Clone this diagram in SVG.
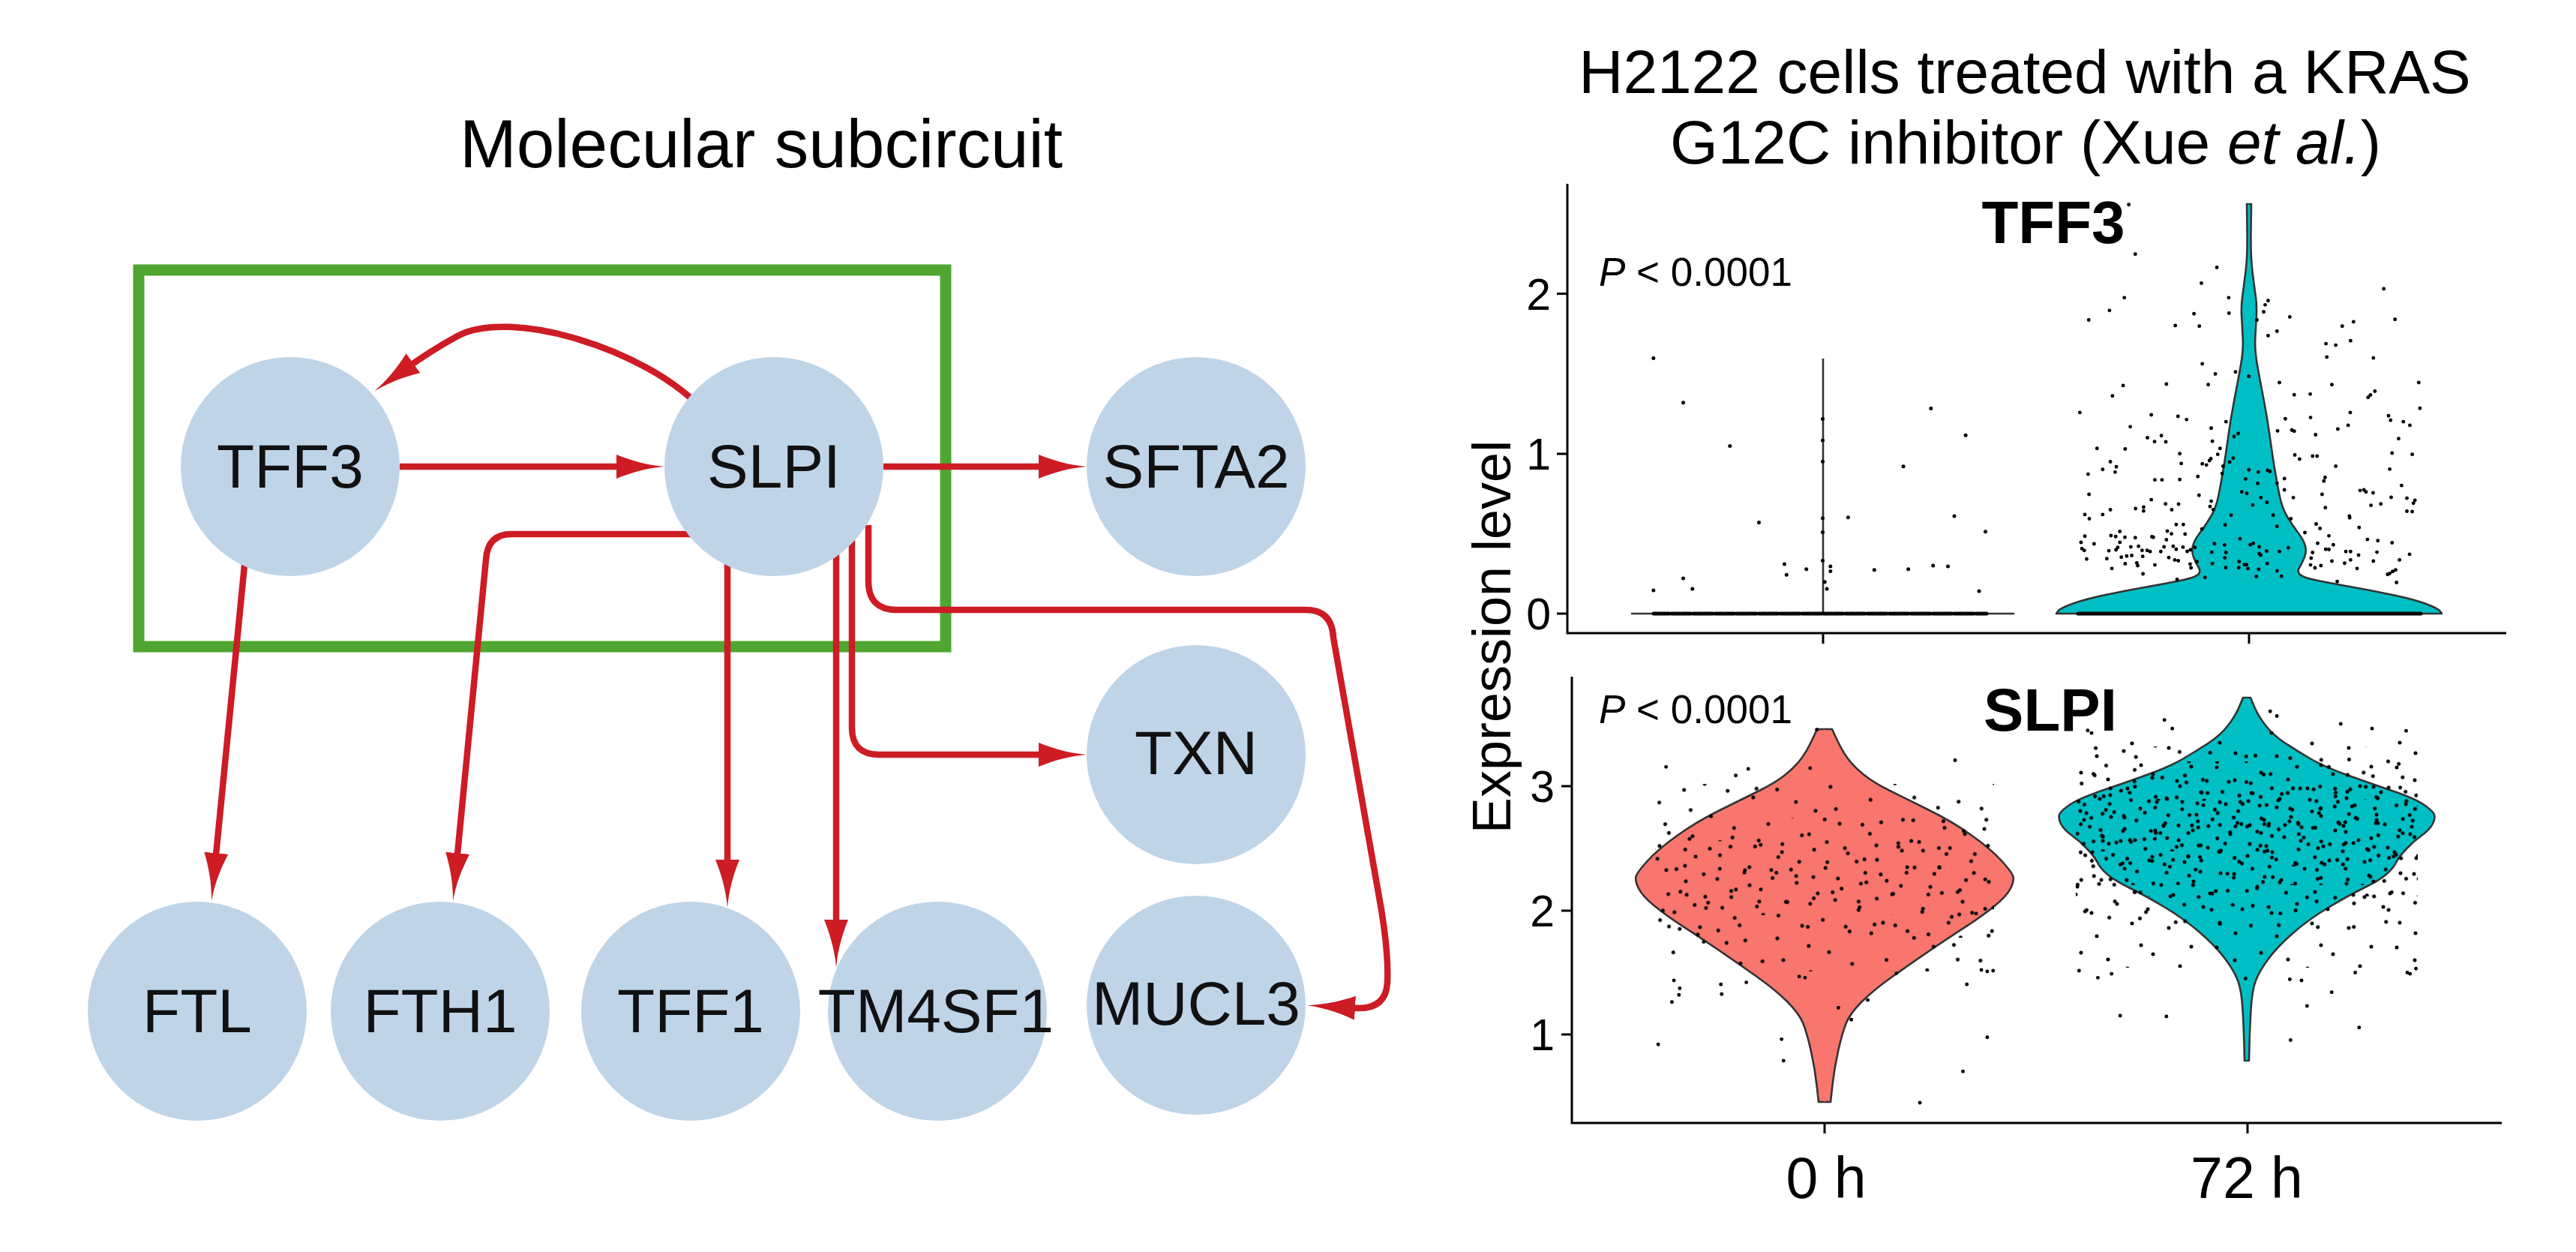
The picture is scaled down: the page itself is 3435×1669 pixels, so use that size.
<svg xmlns="http://www.w3.org/2000/svg" xmlns:xlink="http://www.w3.org/1999/xlink" width="3435" height="1669" viewBox="0 0 3435 1669">
<style>
text{font-family:"Liberation Sans",Arial,Helvetica,sans-serif;fill:#000}
.node circle{fill:#bfd4e7}
.node text{font-size:82px;text-anchor:middle;fill:#111}
.edge{fill:none;stroke:#cd1c24;stroke-width:8.5;marker-end:url(#arr)}
.vline{fill:none;stroke:#333;stroke-width:2.6;stroke-linejoin:round}
.ax{fill:none;stroke:#000;stroke-width:3}
.dots{fill:none;stroke:#000;stroke-linecap:round}
.tick{font-size:59px;text-anchor:end}
.ptxt{font-size:53px}
.ttl{font-size:82px;text-anchor:middle}
.gene{font-size:80px;font-weight:bold;text-anchor:middle}
.xl{font-size:77px;text-anchor:middle}
</style>
<defs>
<marker id="arr" markerUnits="userSpaceOnUse" viewBox="0 -16 64 32" markerWidth="64" markerHeight="32" refX="20" refY="0" orient="auto">
<path d="M0,-16 C20,-8 40,-2 64,0 C40,2 20,8 0,16 Z" fill="#cd1c24"/>
</marker>
<pattern id="pa" width="240" height="240" patternUnits="userSpaceOnUse">
<path class="dots" stroke-width="5" d="M12,37h0M58,9h0M101,44h0M149,17h0M203,31h0M231,72h0M27,88h0M76,63h0M122,97h0M171,79h0M214,118h0M5,141h0M49,126h0M94,152h0M139,133h0M188,161h0M226,187h0M33,189h0M81,204h0M117,181h0M162,213h0M207,229h0M18,233h0M64,170h0M130,222h0M183,5h0M234,147h0M42,62h0M88,112h0M156,48h0M197,91h0M110,12h0M67,231h0M150,176h0M9,104h0M224,12h0M175,129h0M99,205h0M55,96h0M135,70h0M193,198h0M25,160h0M120,140h0M80,30h0M160,105h0M215,60h0M45,215h0M100,80h0"/>
</pattern>
<pattern id="pb" xlink:href="#pa" patternTransform="rotate(23) translate(37,91)"/>
<pattern id="pc" xlink:href="#pa" patternTransform="rotate(-41) translate(113,29)"/>
<pattern id="pd" xlink:href="#pa" patternTransform="rotate(67) translate(71,157)"/>
<pattern id="pe" xlink:href="#pa" patternTransform="rotate(-13) translate(190,61)"/>
<pattern id="pf" xlink:href="#pa" patternTransform="rotate(131) translate(53,17)"/>
<pattern id="pg" xlink:href="#pa" patternTransform="rotate(-97) translate(141,203)"/>
<pattern id="ph" xlink:href="#pa" patternTransform="rotate(157) translate(17,119)"/>
<g id="vS72">
<path fill="#00bfc4" d="M1,930 L-5,930 L-10,942 Q-15,954 -25,967 Q-35,980 -51,990.5 Q-67,1001 -85,1011.5 Q-103,1022 -132,1032.5 Q-161,1043 -192,1053.5 Q-223,1064 -235,1072 Q-247,1080 -249.5,1085 Q-252,1090 -248,1098 Q-244,1106 -233.5,1113.5 Q-223,1121 -213,1131.5 Q-203,1142 -199,1150 Q-195,1158 -185.5,1166 Q-176,1174 -155.5,1184 Q-135,1194 -108.5,1210 Q-82,1226 -61.5,1244 Q-41,1262 -29,1278 Q-17,1294 -12,1307 Q-7,1320 -5.5,1346 Q-4,1372 -3.5,1393 L-3,1414 L1,1414 Z"/>
<path class="vline" d="M0,930 L-5,930 L-10,942 Q-15,954 -25,967 Q-35,980 -51,990.5 Q-67,1001 -85,1011.5 Q-103,1022 -132,1032.5 Q-161,1043 -192,1053.5 Q-223,1064 -235,1072 Q-247,1080 -249.5,1085 Q-252,1090 -248,1098 Q-244,1106 -233.5,1113.5 Q-223,1121 -213,1131.5 Q-203,1142 -199,1150 Q-195,1158 -185.5,1166 Q-176,1174 -155.5,1184 Q-135,1194 -108.5,1210 Q-82,1226 -61.5,1244 Q-41,1262 -29,1278 Q-17,1294 -12,1307 Q-7,1320 -5.5,1346 Q-4,1372 -3.5,1393 L-3,1414 L0,1414"/>
</g>
<g id="vS0">
<path fill="#f8766d" d="M1,972 L-10,972 L-16.75,986.5 Q-23.5,1001 -31.25,1011.5 Q-39,1022 -52,1032.5 Q-65,1043 -86,1053.5 Q-107,1064 -138.5,1079.5 Q-170,1095 -196,1113.5 Q-222,1132 -236,1147.5 Q-250,1163 -251.5,1168.5 Q-253,1174 -248,1184.25 Q-243,1194.5 -227,1207.5 Q-211,1220.6 -190.5,1233.8 Q-170,1247 -143.5,1265 Q-117,1283 -91,1301.5 Q-65,1320 -49.5,1335.5 Q-34,1351 -28.75,1364 Q-23.5,1377 -18.25,1400.5 Q-13,1424 -10.5,1446.5 L-8,1469 L1,1469 Z"/>
<path class="vline" d="M0,972 L-10,972 L-16.75,986.5 Q-23.5,1001 -31.25,1011.5 Q-39,1022 -52,1032.5 Q-65,1043 -86,1053.5 Q-107,1064 -138.5,1079.5 Q-170,1095 -196,1113.5 Q-222,1132 -236,1147.5 Q-250,1163 -251.5,1168.5 Q-253,1174 -248,1184.25 Q-243,1194.5 -227,1207.5 Q-211,1220.6 -190.5,1233.8 Q-170,1247 -143.5,1265 Q-117,1283 -91,1301.5 Q-65,1320 -49.5,1335.5 Q-34,1351 -28.75,1364 Q-23.5,1377 -18.25,1400.5 Q-13,1424 -10.5,1446.5 L-8,1469 L0,1469"/>
</g>
<g id="vT72">
<path fill="#00bfc4" d="M1,272 L-3,272 L-2.5,306.5 Q-2,341 -4.35,360.5 Q-6.7,380 -8.7,394 Q-10.7,408 -9.85,422 Q-9,436 -8.25,451.5 Q-7.5,467 -11.05,487 Q-14.6,507 -19.55,532.5 Q-24.5,558 -27.75,582 Q-31,606 -34.25,625.5 Q-37.5,645 -40.75,661 Q-44,677 -51,688.75 Q-58,700.5 -65.5,710.25 Q-73,720 -75,728 Q-77,736 -73.5,744 Q-70,752 -67,757 Q-64,762 -68,766 Q-72,770 -90.75,773.8 Q-109.5,777.6 -137.25,782.55 Q-165,787.5 -192.5,793.25 Q-220,799 -236,805 Q-252,811 -254.5,814.5 L-257,818 L1,818 Z"/>
<path class="vline" d="M0,272 L-3,272 L-2.5,306.5 Q-2,341 -4.35,360.5 Q-6.7,380 -8.7,394 Q-10.7,408 -9.85,422 Q-9,436 -8.25,451.5 Q-7.5,467 -11.05,487 Q-14.6,507 -19.55,532.5 Q-24.5,558 -27.75,582 Q-31,606 -34.25,625.5 Q-37.5,645 -40.75,661 Q-44,677 -51,688.75 Q-58,700.5 -65.5,710.25 Q-73,720 -75,728 Q-77,736 -73.5,744 Q-70,752 -67,757 Q-64,762 -68,766 Q-72,770 -90.75,773.8 Q-109.5,777.6 -137.25,782.55 Q-165,787.5 -192.5,793.25 Q-220,799 -236,805 Q-252,811 -254.5,814.5 L-257,818 L0,818"/>
</g>
</defs>
<rect width="3435" height="1669" fill="#fff"/>

<text x="1015" y="223" font-size="91" text-anchor="middle">Molecular subcircuit</text>
<rect id="subcircuit-box" x="185" y="360" width="1076" height="502" fill="none" stroke="#4fa732" stroke-width="15"/>

<g id="connectors">
<path class="edge" d="M533,622 H842"/>
<path class="edge" d="M1178,622 H1405"/>
<path class="edge" d="M935,544 C860,465 680,410 610,448 Q575,467 534.7,495.9"/>
<path class="edge" d="M1136,700 V970 Q1136,1006 1172,1006 H1405"/>
<path class="edge" d="M1158,700 V775 Q1158,813 1196,813 H1742 Q1776,813 1778,850 L1838,1190 Q1852,1265 1850,1310 Q1848,1344 1812,1344 L1787,1342.6"/>
<path class="edge" d="M1115,700 V1246"/>
<path class="edge" d="M970,700 V1166"/>
<path class="edge" d="M940,712 H682 Q650,712 648,746 L608.2,1157.2"/>
<path class="edge" d="M329.3,720 L286.3,1157.2"/>
</g>

<g id="node-TFF3" class="node"><circle cx="387" cy="622" r="146"/><text x="387" y="650">TFF3</text></g>
<g id="node-SLPI" class="node"><circle cx="1032" cy="622" r="146"/><text x="1032" y="650">SLPI</text></g>
<g id="node-SFTA2" class="node"><circle cx="1595" cy="622" r="146"/><text x="1595" y="650">SFTA2</text></g>
<g id="node-TXN" class="node"><circle cx="1595" cy="1006" r="146"/><text x="1595" y="1032">TXN</text></g>
<g id="node-FTL" class="node"><circle cx="263" cy="1348" r="146"/><text x="263" y="1376">FTL</text></g>
<g id="node-FTH1" class="node"><circle cx="587" cy="1348" r="146"/><text x="587" y="1376">FTH1</text></g>
<g id="node-TFF1" class="node"><circle cx="921" cy="1348" r="146"/><text x="921" y="1376">TFF1</text></g>
<g id="node-TM4SF1" class="node"><circle cx="1250" cy="1348" r="146"/><text x="1248" y="1376">TM4SF1</text></g>
<g id="node-MUCL3" class="node"><circle cx="1595" cy="1340" r="146"/><text x="1595" y="1366">MUCL3</text></g>

<g id="right-panel">
<text class="ttl" x="2700" y="124">H2122 cells treated with a KRAS</text>
<text class="ttl" x="2701" y="218">G12C inhibitor (Xue <tspan font-style="italic">et al.</tspan>)</text>
<text font-size="72" text-anchor="middle" transform="translate(2014,849) rotate(-90)">Expression level</text>

<g id="tff3-plot">
<path class="ax" d="M2090,245 V845.5 M2088.5,844 H3342 M2076,391.6 H2090 M2076,605 H2090 M2076,818 H2090 M2431,844 V858 M2999,844 V858"/>
<text class="tick" x="2068" y="413">2</text>
<text class="tick" x="2068" y="626">1</text>
<text class="tick" x="2068" y="839">0</text>
<path class="vline" stroke-width="3" d="M2175,818 H2686 M2431,818 V478"/>
<path class="dots" stroke-width="5" stroke-dasharray="6 2 4 1 8 3 3 2" d="M2205,818 H2649"/>
<path class="dots" stroke-width="5.3" transform="translate(1950,30) scale(0.9439)" d="M270,474h0M312,537h0M378,598h0M419,706h0M270,802h0M312,785h0M325,800h0M455,765h0M458,780h0M486,772h0M520,768h0M545,699h0M582,773h0M630,772h0M665,767h0M686,768h0M695,697h0M662,545h0M711,583h0M623,627h0M739,719h0M730,803h0M512,790h0M515,800h0M509,560h0M509,590h0M509,620h0M509,700h0M509,720h0M509,760h0M520,775h0"/>
<g transform="translate(2999,0)"><use xlink:href="#vT72"/><use xlink:href="#vT72" transform="scale(-1,1)"/></g>
<path class="dots" stroke-width="5" stroke-dasharray="5 2 7 1 3 2 6 1" d="M2771,818 H3228"/>
<path class="dots" stroke-width="12.5" transform="translate(2720,230) scale(0.3954)" d="M300,108h0M322,275h0M597,320h0M545,373h0M285,422h0M637,422h0M770,432h0M760,446h0M235,465h0M638,474h0M520,476h0M755,470h0M165,497h0M843,487h0M732,497h0M1198,495h0M457,516h0M538,518h0M1058,503h0M1020,518h0M770,550h0M800,535h0M1160,392h0M965,577h0M998,582h0M1048,567h0M968,622h0M1125,625h0M548,645h0M660,672h0M592,679h0M705,687h0M568,715h0M427,713h0M281,718h0M808,708h0M985,715h0M1278,708h0M245,753h0M858,749h0M912,747h0M1107,758h0M1130,737h0M1115,750h0M135,809h0M376,817h0M466,822h0M495,833h0M628,840h0M913,826h0M828,830h0M1047,809h0M1183,835h0M1176,820h0M1226,840h0M1248,852h0M1282,795h0M305,857h0M578,862h0M669,880h0M655,890h0M802,871h0M850,868h0M858,872h0M930,884h0M1005,865h0M1040,852h0M363,894h0M387,907h0M410,887h0M425,908h0M582,906h0M1210,897h0M193,930h0M288,932h0M608,930h0M600,950h0M472,948h0M577,965h0M572,971h0M548,982h0M562,986h0M652,963h0M640,976h0M618,990h0M860,952h0M876,966h0M920,956h0M935,956h0M1188,946h0M1256,950h0M238,975h0M258,992h0M254,1010h0M212,1001h0M163,1017h0M477,981h0M998,990h0M615,1015h0M705,1002h0M737,1010h0M768,1004h0M776,1008h0M533,1025h0M472,1035h0M388,1036h0M412,1036h0M694,1033h0M735,1048h0M800,1048h0M825,1032h0M962,1028h0M958,1040h0M1180,1000h0M1220,1055h0M166,1085h0M537,1088h0M681,1077h0M698,1082h0M746,1096h0M766,1112h0M718,1121h0M825,1070h0M855,1096h0M952,1085h0M1080,1072h0M1093,1070h0M1100,1077h0M1124,1080h0M1185,1095h0M1238,1098h0M1265,1105h0M1260,1115h0M376,1103h0M424,1117h0M468,1118h0M578,1108h0M574,1126h0M585,1137h0M445,1137h0M323,1133h0M350,1128h0M350,1141h0M238,1137h0M212,1153h0M152,1153h0M167,1167h0M963,1130h0M1117,1122h0M1150,1117h0M1238,1142h0M1256,1143h0M645,1155h0M787,1155h0M847,1167h0M1044,1158h0M1045,1164h0M460,1187h0M484,1187h0M625,1188h0M800,1193h0M932,1185h0M945,1200h0M1077,1197h0M547,1202h0M270,1210h0M430,1209h0M444,1218h0M490,1219h0M894,1214h0M152,1226h0M240,1224h0M256,1227h0M287,1230h0M322,1231h0M378,1228h0M383,1230h0M975,1225h0M139,1247h0M183,1252h0M270,1247h0M263,1264h0M427,1238h0M589,1251h0M623,1256h0M675,1235h0M710,1255h0M720,1250h0M937,1250h0M990,1255h0M1105,1237h0M1140,1241h0M1188,1248h0M142,1268h0M150,1274h0M233,1275h0M257,1272h0M307,1262h0M333,1260h0M345,1274h0M362,1274h0M372,1278h0M408,1278h0M419,1262h0M450,1260h0M460,1270h0M483,1263h0M497,1277h0M508,1272h0M523,1264h0M580,1280h0M628,1281h0M740,1262h0M765,1276h0M808,1278h0M838,1265h0M920,1281h0M964,1270h0M975,1271h0M1032,1278h0M1048,1278h0M1137,1280h0M1247,1287h0M158,1303h0M226,1302h0M275,1297h0M293,1293h0M310,1291h0M347,1294h0M435,1298h0M455,1306h0M467,1309h0M530,1312h0M624,1299h0M740,1285h0M745,1290h0M915,1300h0M985,1310h0M1048,1306h0M1075,1290h0M1125,1310h0M1213,1306h0M243,1335h0M288,1319h0M327,1316h0M330,1325h0M388,1323h0M507,1320h0M510,1333h0M582,1318h0M627,1332h0M672,1312h0M671,1332h0M690,1322h0M697,1322h0M702,1335h0M738,1338h0M767,1318h0M800,1343h0M815,1361h0M730,1362h0M557,1365h0M913,1323h0M928,1333h0M948,1325h0M1028,1317h0M1070,1335h0M1190,1345h0M1200,1340h0M1173,1355h0M1180,1352h0M1203,1382h0M1003,1379h0M463,1372h0M348,1353h0"/>
<text class="ptxt" x="2132" y="381"><tspan font-style="italic">P</tspan> &lt; 0.0001</text>
<text class="gene" x="2738" y="324">TFF3</text>
</g>

<g id="slpi-plot">
<path class="ax" d="M2096,902 V1498.5 M2094.5,1497 H3336 M2082,1048 H2096 M2082,1214 H2096 M2082,1379 H2096 M2433,1497 V1511 M2997,1497 V1511"/>
<text class="tick" x="2073" y="1069">3</text>
<text class="tick" x="2073" y="1235">2</text>
<text class="tick" x="2073" y="1400">1</text>
<g transform="translate(2433,0)"><use xlink:href="#vS0"/><use xlink:href="#vS0" transform="scale(-1,1)"/></g>
<g transform="translate(2996,0)"><use xlink:href="#vS72"/><use xlink:href="#vS72" transform="scale(-1,1)"/></g>
<rect x="2207" y="1045" width="452" height="250" fill="url(#pc)"/>
<rect x="2207" y="1090" width="452" height="160" fill="url(#pf)"/>
<rect x="2207" y="1120" width="452" height="100" fill="url(#pg)"/>
<path class="dots" stroke-width="9.5" transform="translate(1950,850) scale(0.5223)" d="M520,330h0M698,352h0M730,335h0M888,333h0M1258,313h0M905,235h0M540,875h0M555,895h0M553,912h0M535,930h0M660,885h0M662,910h0M725,880h0M500,1038h0M815,1025h0M820,1080h0M960,945h0M993,975h0M1035,925h0M1108,857h0M1288,885h0M1325,848h0M1340,852h0M1355,850h0M1340,1020h0M1278,1107h0M1168,1187h0M860,865h0M875,868h0"/>
<rect x="2768" y="975" width="456" height="315" fill="url(#pa)"/>
<rect x="2768" y="995" width="456" height="255" fill="url(#pb)"/>
<rect x="2768" y="1015" width="456" height="205" fill="url(#pc)"/>
<rect x="2768" y="1030" width="456" height="165" fill="url(#pd)"/>
<rect x="2768" y="1045" width="456" height="135" fill="url(#pe)"/>
<rect x="2768" y="1055" width="456" height="100" fill="url(#pf)"/>
<rect x="2768" y="1065" width="456" height="70" fill="url(#ph)"/>
<path class="dots" stroke-width="9.5" transform="translate(2600,850) scale(0.5223)" d="M548,210h0M568,232h0M352,237h0M818,188h0M835,200h0M998,220h0M1078,232h0M1165,238h0M330,850h0M378,868h0M413,858h0M435,965h0M553,967h0M870,1027h0M912,940h0M975,905h0M1045,995h0M1168,855h0M1190,845h0M868,872h0M898,875h0M1035,855h0M755,870h0M1175,858h0"/>
<text class="ptxt" x="2132" y="964"><tspan font-style="italic">P</tspan> &lt; 0.0001</text>
<text class="gene" x="2734" y="974">SLPI</text>
<text class="xl" x="2435" y="1597">0 h</text>
<text class="xl" x="2996" y="1597">72 h</text>
</g>
</g>
</svg>
